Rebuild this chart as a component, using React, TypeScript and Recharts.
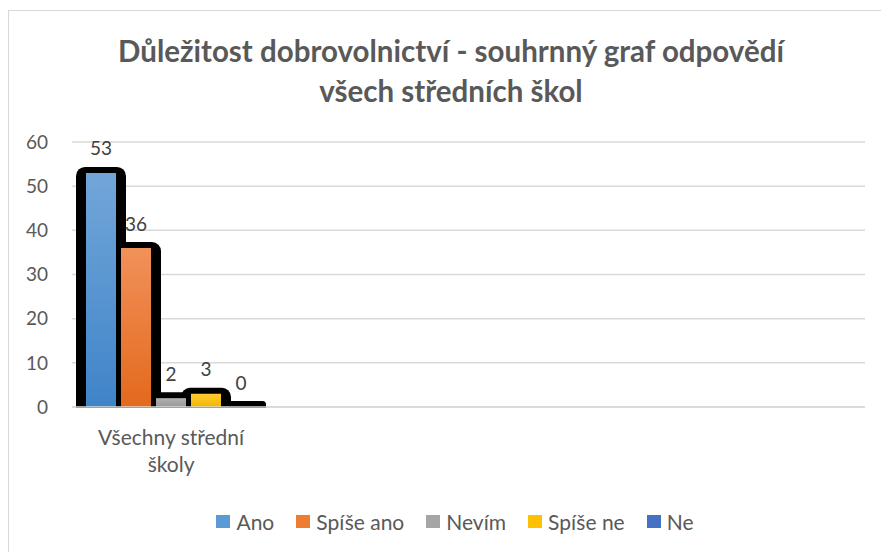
import React from 'react';
import { BarChart, Bar, XAxis, YAxis, CartesianGrid, Legend, Rectangle } from 'recharts';

const categories = ['Všechny střední školy', '', ' ', '  '];
const seriesNames = ['Ano', 'Spíše ano', 'Nevím', 'Spíše ne', 'Ne'];
const seriesKeys = ['ano', 'spiseAno', 'nevim', 'spiseNe', 'ne'];
const anoValues = [53, null, null, null];
const spiseAnoValues = [36, null, null, null];
const nevimValues = [2, null, null, null];
const spiseNeValues = [3, null, null, null];
const neValues = [0, null, null, null];
const yTicks = [0, 10, 20, 30, 40, 50, 60];

const seriesColors = ['#5b9bd5', '#ed7d31', '#a5a5a5', '#ffc000', '#4472c4'];
const gradTop = ['#72a6d9', '#f1915a', '#b0b0b0', '#ffcb33', '#5580cc'];
const gradBottom = ['#3f84c8', '#e3691c', '#999999', '#f2b600', '#3a67b8'];

const data = categories.map((c, i) => ({
  name: c,
  ano: anoValues[i],
  spiseAno: spiseAnoValues[i],
  nevim: nevimValues[i],
  spiseNe: spiseNeValues[i],
  ne: neValues[i],
}));

const TEXT = '#595959';
const FONT = 'Lato, "Open Sans", sans-serif';
const WORD_SIZE = 21;
const NUM_SIZE = 19;

function wrapWords(s: string, maxChars: number): string[] {
  const words = String(s).split(' ').filter((w) => w.length > 0);
  const lines: string[] = [];
  let cur = '';
  words.forEach((w) => {
    const next = cur ? cur + ' ' + w : w;
    if (next.length > maxChars && cur) {
      lines.push(cur);
      cur = w;
    } else {
      cur = next;
    }
  });
  if (cur) lines.push(cur);
  return lines;
}

const makeGlowShape = (valueKey: string) => (props: any) => {
  const { x, y, width, height, payload } = props;
  if (x == null || y == null || width == null || height == null) return null;
  const v = payload ? payload[valueKey] : null;
  return (
    <g>
      <Rectangle
        x={x - 10}
        y={y - 6}
        width={width + 20}
        height={height + 7}
        radius={[9, 9, 0, 0]}
        fill="#000"
      />
      {v != null && (
        <text
          x={x + width / 2}
          y={y - 17.5}
          textAnchor="middle"
          fill="#404040"
          fontSize={NUM_SIZE}
          fontFamily={FONT}
        >
          {v}
        </text>
      )}
    </g>
  );
};

const CategoryTick = (props: any) => {
  const { x, y, payload } = props;
  const lines = wrapWords(payload.value, 16);
  return (
    <text x={x} y={y} textAnchor="middle" fill={TEXT} fontSize={WORD_SIZE} fontFamily={FONT}>
      {lines.map((l, i) => (
        <tspan key={i} x={x} y={y + 38 + i * 27}>
          {l}
        </tspan>
      ))}
    </text>
  );
};

const LegendContent = () => (
  <div
    style={{
      display: 'flex',
      justifyContent: 'center',
      alignItems: 'center',
      height: 24,
      fontFamily: FONT,
      fontSize: WORD_SIZE,
      color: TEXT,
    }}
  >
    {seriesNames.map((n, i) => (
      <div key={n} style={{ display: 'flex', alignItems: 'center', marginRight: i < seriesNames.length - 1 ? 22 : 0 }}>
        <div style={{ width: 14, height: 13, background: seriesColors[i], marginRight: 6 }} />
        <span>{n}</span>
      </div>
    ))}
  </div>
);

export default function App() {
  return (
    <div style={{ position: 'absolute', left: 0, top: 0, width: 881, height: 552, overflow: 'hidden', background: '#fff' }}>
      <div
        style={{
          position: 'absolute',
          left: 8,
          top: 10,
          width: 1000,
          height: 1000,
          border: '1px solid #d9d9d9',
        }}
      />
      <div
        style={{
          position: 'absolute',
          left: 0,
          top: 31,
          width: 902,
          textAlign: 'center',
          fontFamily: FONT,
          fontWeight: 700,
          fontSize: 29.5,
          lineHeight: '40px',
          color: TEXT,
        }}
      >
        Důležitost dobrovolnictví - souhrnný graf odpovědí
        <br />
        všech středních škol
      </div>
      <div style={{ position: 'absolute', left: 0, top: 0 }}>
        <BarChart
          width={881}
          height={552}
          data={data}
          margin={{ top: 142, right: 16, left: 0, bottom: 51 }}
          barGap={5}
          barCategoryGap={14}
        >
          <defs>
            {seriesKeys.map((k, i) => (
              <linearGradient key={k} id={`g-${k}`} x1="0" y1="0" x2="0" y2="1">
                <stop offset="0%" stopColor={gradTop[i]} />
                <stop offset="100%" stopColor={gradBottom[i]} />
              </linearGradient>
            ))}
          </defs>
          <CartesianGrid vertical={false} stroke="#d9d9d9" strokeWidth={1.5} />
          <XAxis xAxisId="bg" dataKey="name" hide height={0} />
          <XAxis
            xAxisId="main"
            dataKey="name"
            axisLine={{ stroke: '#d9d9d9', strokeWidth: 1.5 }}
            tickLine={false}
            tickSize={0}
            tickMargin={0}
            height={70}
            interval={0}
            tick={<CategoryTick />}
          />
          <YAxis
            domain={[0, 60]}
            ticks={yTicks}
            width={72}
            axisLine={false}
            tickLine={false}
            tickSize={0}
            tickMargin={24}
            tick={{ fill: TEXT, fontSize: NUM_SIZE, fontFamily: FONT }}
          />
          {seriesKeys.map((k, i) => (
            <Bar
              key={`bg-${k}`}
              xAxisId="bg"
              dataKey={k}
              name={`${seriesNames[i]}-bg`}
              legendType="none"
              shape={makeGlowShape(k)}
              isAnimationActive={false}
            />
          ))}
          {seriesKeys.map((k, i) => (
            <Bar
              key={k}
              xAxisId="main"
              dataKey={k}
              name={seriesNames[i]}
              fill={`url(#g-${k})`}
              isAnimationActive={false}
            />
          ))}
          <Legend
            verticalAlign="bottom"
            content={<LegendContent />}
            wrapperStyle={{ left: 0, width: 910, top: 509, height: 24 }}
          />
        </BarChart>
      </div>
    </div>
  );
}
